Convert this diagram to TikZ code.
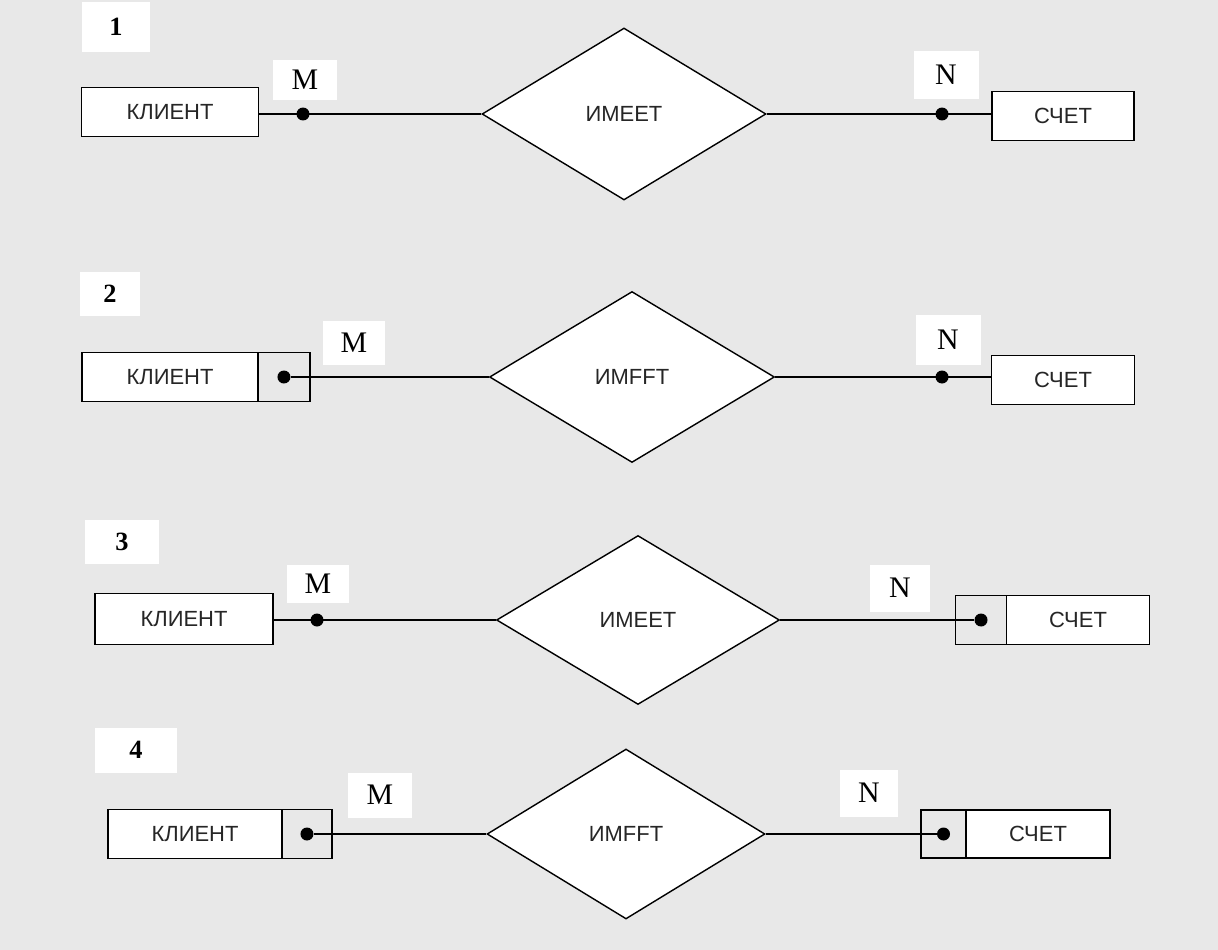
\documentclass[tikz,border=0pt]{standalone}
\usepackage{fontspec}
\setmainfont{Liberation Serif}
\setsansfont{Liberation Sans}
\usetikzlibrary{positioning,shapes.geometric}
\tikzset{
  ent/.style={rectangle, draw=black, line width=0.8pt, fill=white, outer sep=0pt,
              minimum height=9.8mm, text=black!85, font=\sffamily\fontsize{12.5}{14}\selectfont},
  keyb/.style={rectangle, draw=black, line width=0.8pt, outer sep=0pt, minimum height=9.8mm},
  rel/.style={diamond, draw=black, line width=0.8pt, fill=white, inner sep=0pt,
              text=black!85, font=\sffamily\fontsize{12.5}{14}\selectfont},
  lnk/.style={line width=0.8pt},
  blob/.style={circle, fill=black, inner sep=0pt, minimum size=2.6mm},
  num/.style={fill=white, font=\bfseries\fontsize{15}{17}\selectfont},
  card/.style={fill=white, font=\fontsize{17}{19}\selectfont},
}

\begin{document}
\begin{tikzpicture}[x=0.02cm, y=-0.02cm]
\fill[black!9] (0,0) rectangle (1218,950);
\useasboundingbox (0,0) rectangle (1218,950);

% 1
\node[num, minimum width=13.8mm, minimum height=10mm] (n1) at (116,27) {1};
\node[ent, minimum width=35.4mm] (k1) at (170,112) {КЛИЕНТ};
\node[rel, minimum width=56.8mm, minimum height=34.4mm] (r1) at (624,114) {ИМЕЕТ};
\node[ent, minimum width=28.4mm] (s1) at (1063,116) {СЧЕТ};
\draw[lnk] (r1.west) -- (r1.west -| k1.east);
\draw[lnk] (r1.east) -- (r1.east -| s1.west);
\node[blob] (d1a) at (303,114) {};
\node[blob] (d1b) at (942,114) {};
\node[card, minimum width=12.8mm, minimum height=8mm] (m1) at (305,80) {M};
\node[card, minimum width=13mm, minimum height=9.5mm] (c1) at (946,75) {N};

% 2
\node[num, minimum width=12mm, minimum height=9mm] (n2) at (110,294) {2};
\node[ent, minimum width=35.2mm] (k2) at (170,377) {КЛИЕНТ};
\node[keyb, right=0pt of k2, minimum width=10.4mm] (k2k) {};
\node[blob] (d2a) at (k2k.center) {};
\node[rel, minimum width=57mm, minimum height=34.2mm] (r2) at (632,377) {ИМFFT};
\node[ent, minimum width=28.6mm] (s2) at (1063,380) {СЧЕТ};
\draw[lnk] (d2a) -- (r2);
\draw[lnk] (r2.east) -- (r2.east -| s2.west);
\node[blob] (d2b) at (942,377) {};
\node[card, minimum width=12.4mm, minimum height=9mm] (m2) at (354,343) {M};
\node[card, minimum width=13mm, minimum height=10mm] (c2) at (948,340) {N};

% 3
\node[num, minimum width=15mm, minimum height=8.8mm] (n3) at (122,542) {3};
\node[ent, minimum width=35.6mm, minimum height=10.2mm] (k3) at (184,619) {КЛИЕНТ};
\node[rel, minimum width=56.6mm, minimum height=33.8mm] (r3) at (638,620) {ИМЕЕТ};
\node[ent, minimum width=28.6mm] (s3) at (1078,620) {СЧЕТ};
\node[keyb, left=0pt of s3, minimum width=10.2mm] (s3k) {};
\node[blob] (d3b) at (s3k.center) {};
\draw[lnk] (r3.west) -- (r3.west -| k3.east);
\draw[lnk] (r3) -- (d3b);
\node[blob] (d3a) at (317,620) {};
\node[card, minimum width=12.6mm, minimum height=7.6mm] (m3) at (318,584) {M};
\node[card, minimum width=12mm, minimum height=9.4mm] (c3) at (900,588) {N};

% 4
\node[num, minimum width=16.4mm, minimum height=9mm] (n4) at (136,750) {4};
\node[ent, minimum width=34.8mm] (k4) at (195,834) {КЛИЕНТ};
\node[keyb, right=0pt of k4, minimum width=10mm] (k4k) {};
\node[blob] (d4a) at (k4k.center) {};
\node[rel, minimum width=55.6mm, minimum height=34mm] (r4) at (626,834) {ИМFFT};
\node[ent, minimum width=28.8mm, minimum height=9.6mm] (s4) at (1038,834) {СЧЕТ};
\node[keyb, left=0pt of s4, minimum width=9mm, minimum height=9.6mm] (s4k) {};
\node[blob] (d4b) at (s4k.center) {};
\draw[lnk] (d4a) -- (r4);
\draw[lnk] (r4) -- (d4b);
\node[card, minimum width=12.8mm, minimum height=9mm] (m4) at (380,795) {M};
\node[card, minimum width=11.6mm, minimum height=9.4mm] (c4) at (869,793) {N};
\end{tikzpicture}
\end{document}
